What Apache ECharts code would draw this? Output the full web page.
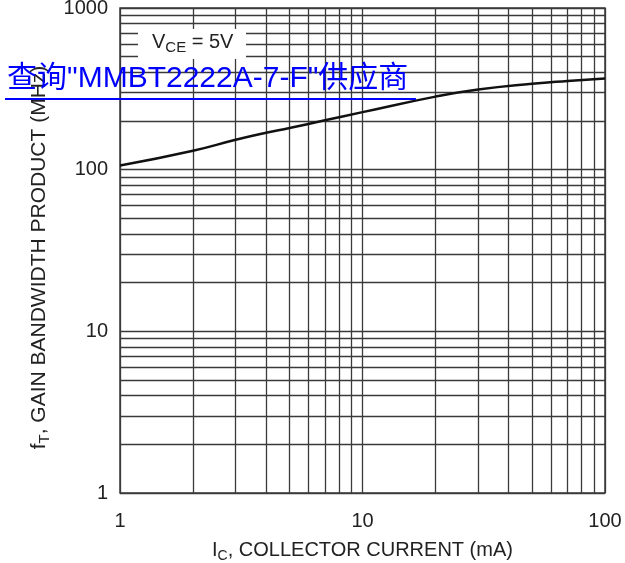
<!DOCTYPE html>
<html>
<head>
<meta charset="utf-8">
<script src="https://cdn.jsdelivr.net/npm/echarts@6/dist/echarts.min.js"></script>
<style>html,body{margin:0;padding:0;background:#fff}#c{width:625px;height:563px}</style>
</head>
<body>
<div id="c"></div>
<script>
// Collector current (mA) and gain-bandwidth product (MHz)
const currentMA = [1, 2, 3, 4, 5, 7, 10, 20, 30, 50, 70, 100];
const ftMHz = [106, 131, 153, 169, 181, 202, 227, 283, 313, 340, 354, 367];
// Decade minor grid values
const minorX = [2, 3, 4, 5, 6, 7, 8, 9, 20, 30, 40, 50, 60, 70, 80, 90];
const minorY = [2, 3, 4, 5, 6, 7, 8, 9, 20, 30, 40, 50, 60, 70, 80, 90, 200, 300, 400, 500, 600, 700, 800, 900];

const FONT = "'Liberation Sans', Arial, sans-serif";
const TXT = '#222';
const gridColor = '#3a3a3a';

const chart = echarts.init(document.getElementById('c'), null, {renderer: 'canvas'});
const markData = minorX.map(v => ({xAxis: v})).concat(minorY.map(v => ({yAxis: v})));
const richX = {
  m: {fontFamily: FONT, fontSize: 20, color: TXT},
  s: {fontFamily: FONT, fontSize: 14, color: TXT, padding: [12, 0, 0, 0]}
};
const richY = {
  m: {fontFamily: FONT, fontSize: 21, color: TXT},
  s: {fontFamily: FONT, fontSize: 15, color: TXT, padding: [12, 0, 0, 0]}
};

chart.setOption({
  animation: false,
  backgroundColor: '#fff',
  grid: {left: 120, right: 20, top: 8, bottom: 70, show: true, borderColor: gridColor, borderWidth: 1.5,
         containLabel: false, outerBoundsMode: 'none'},
  xAxis: {
    type: 'log', logBase: 10, min: 1, max: 100,
    axisLine: {show: false}, axisTick: {show: false},
    splitLine: {show: true, lineStyle: {color: gridColor, width: 1.3}},
    axisLabel: {fontFamily: FONT, fontSize: 20, color: TXT, margin: 18, formatter: v => String(v)},
    name: '{m|I}{s|C}{m|, COLLECTOR CURRENT (mA)}',
    nameLocation: 'middle', nameGap: 44,
    nameTextStyle: {fontFamily: FONT, fontSize: 20, color: TXT, rich: richX}
  },
  yAxis: {
    type: 'log', logBase: 10, min: 1, max: 1000,
    axisLine: {show: false}, axisTick: {show: false},
    splitLine: {show: true, lineStyle: {color: gridColor, width: 1.3}},
    axisLabel: {fontFamily: FONT, fontSize: 20, color: TXT, margin: 12, formatter: v => String(v)},
    name: '{m|f}{s|T}{m|, GAIN BANDWIDTH PRODUCT (MHz)}',
    nameLocation: 'middle', nameGap: 64, nameRotate: 90,
    nameTextStyle: {fontFamily: FONT, fontSize: 21, color: TXT, rich: richY, padding: [0, 14, 0, 0]}
  },
  series: [{
    type: 'line',
    data: currentMA.map((x, i) => [x, ftMHz[i]]),
    smooth: 0.5,
    showSymbol: false,
    lineStyle: {color: '#111', width: 2.5},
    z: 5,
    markLine: {
      silent: true, symbol: 'none', label: {show: false},
      lineStyle: {color: gridColor, width: 1.3, type: 'solid'},
      data: markData
    }
  }],
  graphic: [
    {
      type: 'rect', left: 138, top: 29, z: 10,
      shape: {width: 108, height: 30},
      style: {fill: '#fff'}
    },
    {
      type: 'text', left: 152, top: 32, z: 11,
      style: {
        text: '{m|V}{s|CE}{m| = 5V}',
        rich: {
          m: {fontFamily: FONT, fontSize: 20, fill: TXT},
          s: {fontFamily: FONT, fontSize: 15, fill: TXT, padding: [12, 0, 0, 0]}
        }
      }
    },
    {
      type: 'text', left: 7, top: 64, z: 20,
      style: {
        text: '查询"MMBT2222A-7-F"供应商',
        fontFamily: "'Liberation Sans', 'Noto Sans CJK SC', sans-serif",
        fontSize: 30, fill: '#0000ff'
      }
    },
    {
      type: 'rect', left: 5, top: 98, z: 20,
      shape: {width: 411, height: 2},
      style: {fill: '#0000ff'}
    }
  ]
});
</script>
</body>
</html>
